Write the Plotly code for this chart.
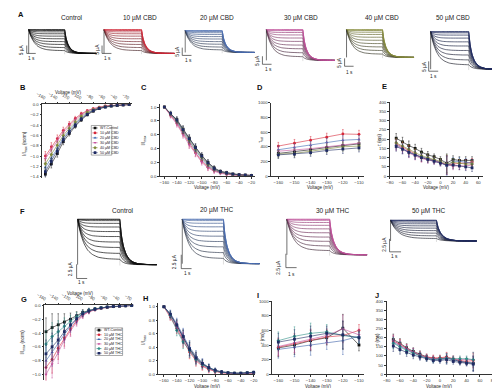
import plotly.graph_objects as go

# ---------------- data ----------------
V_ACT = [-160, -150, -140, -130, -120, -110, -100, -90, -80, -70, -60, -50, -40, -30, -20]
V_TAU_ACT = [-160, -150, -140, -130, -120, -110]
V_TAU_DEACT = [-70, -60, -50, -40, -30, -20, -10, 0, 10, 20, 30, 40, 50]

CBD_LABELS = ["WT-Control", "10 µM CBD", "20 µM CBD", "30 µM CBD", "40 µM CBD", "50 µM CBD"]
THC_LABELS = ["WT-Control", "10 µM THC", "20 µM THC", "30 µM THC", "40 µM THC", "50 µM THC"]
CBD_COLORS = ["#111111", "#d62839", "#3a66b0", "#c4519d", "#7f8a3a", "#1f2b63"]
THC_COLORS = ["#111111", "#d62839", "#3a5fa8", "#c4519d", "#2f8f86", "#1f2b63"]
SYMBOLS = ["square", "circle", "triangle-up", "triangle-down", "diamond", "square"]

# B: normalised I-V (CBD)
B_SERIES = [
    [-1.35, -1.15, -0.95, -0.72, -0.56, -0.42, -0.30, -0.20, -0.13, -0.08, -0.05, -0.03, -0.02, -0.008, 0.0],
    [-1.00, -0.82, -0.66, -0.50, -0.38, -0.27, -0.18, -0.12, -0.08, -0.05, -0.03, -0.02, -0.01, -0.005, 0.0],
    [-1.22, -1.04, -0.85, -0.64, -0.50, -0.37, -0.26, -0.17, -0.11, -0.07, -0.045, -0.026, -0.016, -0.007, 0.0],
    [-1.05, -0.87, -0.71, -0.54, -0.41, -0.30, -0.20, -0.13, -0.085, -0.055, -0.033, -0.021, -0.012, -0.005, 0.0],
    [-1.15, -0.97, -0.79, -0.60, -0.46, -0.34, -0.23, -0.15, -0.10, -0.065, -0.04, -0.024, -0.014, -0.006, 0.0],
    [-1.30, -1.10, -0.90, -0.68, -0.53, -0.40, -0.28, -0.19, -0.12, -0.075, -0.048, -0.028, -0.018, -0.008, 0.0],
]
B_ERR = [0.09, 0.08, 0.07, 0.06, 0.05, 0.04, 0.03, 0.02, 0.015, 0.01, 0.008, 0.006, 0.005, 0.004, 0.0]

# C: normalised activation (CBD)
C_SERIES = [
    [1.0, 0.90, 0.82, 0.68, 0.55, 0.42, 0.30, 0.20, 0.12, 0.07, 0.05, 0.03, 0.02, 0.015, 0.01],
    [1.0, 0.88, 0.77, 0.62, 0.47, 0.34, 0.22, 0.13, 0.08, 0.05, 0.03, 0.02, 0.015, 0.01, 0.01],
    [1.0, 0.89, 0.79, 0.64, 0.50, 0.37, 0.25, 0.15, 0.09, 0.055, 0.035, 0.02, 0.015, 0.01, 0.01],
    [1.0, 0.87, 0.75, 0.60, 0.45, 0.33, 0.20, 0.12, 0.07, 0.04, 0.025, 0.015, 0.01, 0.01, 0.005],
    [1.0, 0.90, 0.80, 0.66, 0.52, 0.39, 0.27, 0.17, 0.10, 0.06, 0.04, 0.025, 0.015, 0.01, 0.01],
    [1.0, 0.91, 0.81, 0.67, 0.54, 0.41, 0.29, 0.19, 0.11, 0.065, 0.045, 0.03, 0.02, 0.015, 0.01],
]
C_ERR = [0.0, 0.03, 0.04, 0.05, 0.05, 0.05, 0.04, 0.04, 0.03, 0.02, 0.02, 0.01, 0.01, 0.01, 0.01]

# D: activation time constants (CBD)
D_SERIES = [
    [310, 330, 360, 390, 420, 440],
    [410, 450, 490, 530, 575, 570],
    [360, 390, 420, 460, 490, 500],
    [340, 355, 375, 400, 430, 450],
    [300, 310, 340, 370, 400, 410],
    [290, 300, 320, 350, 370, 385],
]
D_ERR = [50, 50, 50, 55, 60, 55]

# E: deactivation time constants (CBD)
E_SERIES = [
    [205, 185, 165, 150, 130, 115, 105, 90, 70, 90, 85, 85, 85],
    [175, 158, 140, 120, 100, 95, 85, 75, 60, 65, 70, 70, 75],
    [170, 150, 130, 115, 105, 95, 85, 75, 55, 80, 80, 75, 70],
    [165, 148, 125, 110, 95, 88, 80, 70, 60, 55, 55, 55, 60],
    [180, 163, 145, 125, 110, 100, 90, 80, 65, 75, 70, 65, 65],
    [160, 145, 128, 113, 100, 90, 80, 70, 60, 60, 55, 50, 45],
]
E_ERR = [25, 25, 25, 22, 20, 18, 15, 15, 50, 20, 20, 20, 20]

# G: normalised I-V (THC)
G_SERIES = [
    [-0.38, -0.32, -0.28, -0.24, -0.20, -0.15, -0.10, -0.07, -0.05, -0.035, -0.025, -0.015, -0.01, -0.005, 0.0],
    [-0.90, -0.78, -0.62, -0.47, -0.34, -0.22, -0.14, -0.09, -0.06, -0.04, -0.025, -0.015, -0.01, -0.005, 0.0],
    [-0.80, -0.68, -0.55, -0.42, -0.30, -0.20, -0.13, -0.08, -0.055, -0.035, -0.022, -0.014, -0.008, -0.004, 0.0],
    [-1.00, -0.85, -0.68, -0.50, -0.36, -0.24, -0.15, -0.09, -0.06, -0.04, -0.025, -0.015, -0.01, -0.005, 0.0],
    [-0.56, -0.45, -0.38, -0.30, -0.23, -0.16, -0.11, -0.075, -0.05, -0.035, -0.022, -0.014, -0.008, -0.004, 0.0],
    [-0.70, -0.60, -0.50, -0.38, -0.28, -0.19, -0.12, -0.08, -0.055, -0.037, -0.024, -0.015, -0.009, -0.004, 0.0],
]
G_ERR = [0.2, 0.2, 0.16, 0.12, 0.09, 0.06, 0.04, 0.03, 0.02, 0.01, 0.008, 0.006, 0.005, 0.004, 0.0]

# H: normalised activation (THC)
H_SERIES = [
    [1.0, 0.88, 0.72, 0.55, 0.38, 0.25, 0.15, 0.09, 0.05, 0.03, 0.02, 0.015, 0.015, 0.02, 0.02],
    [1.0, 0.85, 0.68, 0.50, 0.33, 0.20, 0.12, 0.07, 0.04, 0.02, 0.015, 0.01, 0.01, 0.015, 0.02],
    [1.0, 0.90, 0.75, 0.58, 0.40, 0.27, 0.17, 0.10, 0.06, 0.035, 0.02, 0.015, 0.015, 0.02, 0.025],
    [1.0, 0.86, 0.70, 0.52, 0.35, 0.22, 0.13, 0.08, 0.045, 0.025, 0.015, 0.01, 0.01, 0.015, 0.02],
    [1.0, 0.87, 0.65, 0.48, 0.35, 0.22, 0.14, 0.09, 0.05, 0.03, 0.02, 0.015, 0.015, 0.02, 0.03],
    [1.0, 0.89, 0.73, 0.56, 0.37, 0.24, 0.16, 0.10, 0.06, 0.035, 0.02, 0.015, 0.015, 0.02, 0.03],
]
H_ERR = [0.0, 0.05, 0.08, 0.10, 0.10, 0.08, 0.06, 0.05, 0.03, 0.02, 0.01, 0.01, 0.01, 0.01, 0.01]

# I: activation time constants (THC)
I_SERIES = [
    [360, 400, 460, 500, 630, 400],
    [370, 420, 470, 510, 530, 600],
    [340, 370, 400, 440, 460, 520],
    [380, 430, 480, 530, 620, 540],
    [460, 520, 560, 580, 530, 500],
    [440, 480, 520, 560, 540, 500],
]
I_ERR = [120, 130, 140, 100, 190, 80]

# J: deactivation time constants (THC)
J_SERIES = [
    [190, 170, 145, 125, 110, 95, 85, 85, 90, 80, 70, 65, 60],
    [180, 165, 140, 120, 105, 95, 90, 90, 95, 85, 75, 70, 75],
    [175, 155, 135, 120, 100, 90, 80, 80, 85, 80, 70, 65, 60],
    [185, 160, 140, 122, 105, 92, 85, 85, 90, 85, 80, 80, 80],
    [170, 150, 130, 115, 100, 88, 80, 85, 88, 85, 85, 85, 80],
    [155, 135, 120, 105, 95, 85, 75, 75, 80, 70, 65, 60, 55],
]
J_ERR = [30, 25, 22, 20, 18, 15, 15, 15, 25, 15, 15, 15, 40]

# current traces (read-off shapes, µA / s)
CBD_TRACE_TITLES = ["Control", "10 µM CBD", "20 µM CBD", "30 µM CBD", "40 µM CBD", "50 µM CBD"]
CBD_TRACE_PEAK = [15, 15, 14, 19, 17.5, 19]
CBD_TRACE_COLORS = ["#111111", "#d62839", "#4a6fb5", "#c4519d", "#8a8f3c", "#1f2b63"]
THC_TRACE_TITLES = ["Control", "20 µM THC", "30 µM THC", "50 µM THC"]
THC_TRACE_PEAK = [8, 8, 6.4, 4]
THC_TRACE_COLORS = ["#111111", "#4a6fb5", "#c4519d", "#1f2b63"]
LEVEL_FRAC = [1.0, 1.0, 0.97, 0.91, 0.83, 0.73, 0.62, 0.50, 0.38, 0.25, 0.12]
SWEEP_STRETCH = [0.6, 0.6, 0.65, 0.7, 0.8, 0.9, 1.0, 1.1, 1.2, 1.3, 1.4]
ACT_T = [0, 0.1, 0.25, 0.45, 0.7, 1.0, 1.4, 2.0, 2.8]
ACT_FRAC = [0, 0.2, 0.42, 0.62, 0.78, 0.88, 0.95, 0.985, 1.0]
TAIL_DT = [0, 0.15, 0.35, 0.6, 0.9, 1.25, 1.75, 2.5, 3.5]
TAIL_FRAC = [1, 0.65, 0.4, 0.23, 0.12, 0.06, 0.02, 0.005, 0]
STEP_END = 4.0
T_END = 7.5

# ---------------- helpers ----------------
W, HH = 500, 388
FONT = "Liberation Sans, Arial, sans-serif"


def px(x):
    return x / W


def py(y):
    return 1 - y / HH


fig = go.Figure()
_n = [0]


def new_axes(xd, yd, xa, ya):
    _n[0] += 1
    n = _n[0]
    xs = "x" if n == 1 else f"x{n}"
    ys = "y" if n == 1 else f"y{n}"
    xk = "xaxis" if n == 1 else f"xaxis{n}"
    yk = "yaxis" if n == 1 else f"yaxis{n}"
    xa = dict(xa, domain=[px(xd[0]), px(xd[1])], anchor=ys)
    ya = dict(ya, domain=[py(yd[1]), py(yd[0])], anchor=xs)
    fig.update_layout({xk: xa, yk: ya})
    return xs, ys


def text(x, y, s, size=5, rot=0, bold=False, color="#222", xanchor="center"):
    if bold:
        s = "<b>" + s + "</b>"
    fig.add_annotation(x=px(x), y=py(y), xref="paper", yref="paper", text=s, showarrow=False,
                       font=dict(size=size, color=color, family=FONT), textangle=rot,
                       xanchor=xanchor, yanchor="middle", borderpad=0)


def pline(x0, y0, x1, y1, color="#333", width=0.7):
    fig.add_shape(type="line", xref="paper", yref="paper", x0=px(x0), y0=py(y0), x1=px(x1), y1=py(y1),
                  line=dict(color=color, width=width))


def mix(c1, c2, t):
    a = [int(c1[i:i + 2], 16) for i in (1, 3, 5)]
    b = [int(c2[i:i + 2], 16) for i in (1, 3, 5)]
    return "#%02x%02x%02x" % tuple(round(a[k] + (b[k] - a[k]) * t) for k in range(3))


def trace_panel(box, peak, color, title, title_xy, sb_corner, sb_val, sb_text, sb_lab_v, sb_lab_h):
    x0, x1, ytop, ybase = box
    pps = (x1 - x0) / T_END
    ppu = (ybase - ytop) / peak
    xa = dict(visible=False, range=[-1 / pps, T_END + 1 / pps])
    ya = dict(visible=False, range=[-1 / ppu, peak + 1 / ppu])
    xs, ys = new_axes((x0 - 1, x1 + 1), (ytop - 1, ybase + 1), xa, ya)
    n = len(LEVEL_FRAC)
    # step-end artefact
    fig.add_trace(go.Scatter(x=[STEP_END, STEP_END], y=[-1 / ppu, peak * 0.9], mode="lines",
                             line=dict(color="#c8c8c8", width=0.6), xaxis=xs, yaxis=ys,
                             showlegend=False, hoverinfo="skip"))
    for i in reversed(range(n)):
        lf, st = LEVEL_FRAC[i], SWEEP_STRETCH[i]
        L = peak * lf
        tx = [t * st for t in ACT_T] + [STEP_END] + [STEP_END + dt for dt in TAIL_DT]
        ty = [peak - (peak - L) * f for f in ACT_FRAC] + [L] + [L * f for f in TAIL_FRAC]
        col = color if color == "#111111" else mix(color, "#2a2a2a", 0.8 * i / (n - 1))
        fig.add_trace(go.Scatter(x=tx, y=ty, mode="lines",
                                 line=dict(color=col, width=0.7, shape="spline", smoothing=0.5),
                                 xaxis=xs, yaxis=ys, showlegend=False, hoverinfo="skip"))
    fig.add_trace(go.Scatter(x=[0, 0], y=[0, peak], mode="lines", line=dict(color="#333", width=0.7),
                             xaxis=xs, yaxis=ys, showlegend=False, hoverinfo="skip"))
    text(title_xy[0], title_xy[1], title, size=6.5)
    cx, cy = sb_corner
    pline(cx, cy, cx, cy - sb_val * ppu)
    pline(cx, cy, cx + pps, cy)
    text(sb_lab_v[0], sb_lab_v[1], sb_text, size=4.8, rot=-90)
    text(sb_lab_h[0], sb_lab_h[1], "1 s", size=4.8)


AX = dict(showline=True, linecolor="#333", linewidth=0.6, ticks="outside", ticklen=2, tickwidth=0.5,
          tickcolor="#333", tickfont=dict(size=4.3, color="#333", family=FONT), showgrid=False,
          zeroline=False, fixedrange=True)


def chart_panel(box, xr, yr, xticks, yticks, yfmt, x_top, xv, series, err, colors):
    xl, xr_px, yt, yb = box
    xa = dict(AX, range=xr, tickvals=xticks, side="top" if x_top else "bottom")
    ya = dict(AX, range=yr, tickvals=yticks, tickformat=yfmt)
    xs, ys = new_axes((xl, xr_px), (yt, yb), xa, ya)
    for s, c, m in zip(series, colors, SYMBOLS):
        fig.add_trace(go.Scatter(x=xv, y=s, mode="lines+markers", line=dict(color=c, width=0.6),
                                 marker=dict(symbol=m, size=2.8, color=c, line=dict(width=0)),
                                 error_y=dict(type="data", array=err, color=c, thickness=0.45, width=0.8),
                                 xaxis=xs, yaxis=ys, showlegend=False, hoverinfo="skip", cliponaxis=False))


def legend_box(box, labels, colors):
    x0, y0, x1, y1 = box
    fig.add_shape(type="rect", xref="paper", yref="paper", x0=px(x0), x1=px(x1), y0=py(y1), y1=py(y0),
                  line=dict(color="#555", width=0.5), fillcolor="white", layer="below")
    n = len(labels)
    rowh = (y1 - y0) / n
    xs, ys = new_axes((x0, x1), (y0, y1), dict(visible=False, range=[x0, x1]),
                      dict(visible=False, range=[y1, y0]))
    for i in range(n):
        yc = y0 + rowh * (i + 0.5)
        fig.add_trace(go.Scatter(x=[x0 + 1.2, x0 + 6.5], y=[yc, yc], mode="lines",
                                 line=dict(color=colors[i], width=0.6), xaxis=xs, yaxis=ys,
                                 showlegend=False, hoverinfo="skip"))
        fig.add_trace(go.Scatter(x=[x0 + 3.85], y=[yc], mode="markers",
                                 marker=dict(symbol=SYMBOLS[i], size=2.6, color=colors[i]),
                                 xaxis=xs, yaxis=ys, showlegend=False, hoverinfo="skip"))
        text(x0 + 7.5, yc, labels[i], size=3.6, xanchor="left")


# ---------------- row A: CBD current traces ----------------
A_GEO = [
    dict(box=(14, 83, 20, 44), t=(58, 8), sb=(12, 44), lv=(7, 40), lh=(17, 49.5)),
    dict(box=(91, 163, 20, 44), t=(128, 8), sb=(89, 44), lv=(84, 40), lh=(95, 49.5)),
    dict(box=(174, 245, 21, 43), t=(207, 8), sb=(171, 46), lv=(166, 42), lh=(177, 51)),
    dict(box=(257, 327, 20, 51), t=(292, 8), sb=(253, 55), lv=(248, 51), lh=(259, 60)),
    dict(box=(339, 408, 20, 48), t=(375, 8), sb=(337, 57), lv=(332, 53), lh=(342, 63)),
    dict(box=(425, 498, 22, 60), t=(448, 8), sb=(423, 62), lv=(418, 57), lh=(428, 67)),
]
for g, pk, col, ttl in zip(A_GEO, CBD_TRACE_PEAK, CBD_TRACE_COLORS, CBD_TRACE_TITLES):
    trace_panel(g["box"], pk, col, ttl, g["t"], g["sb"], 5, "5 µA", g["lv"], g["lh"])

# ---------------- row F: THC current traces ----------------
F_GEO = [
    dict(box=(64, 145, 212, 258), t=(110, 203), sb=(63, 272), lv=(57, 262), lh=(68, 276)),
    dict(box=(171, 250, 212, 257), t=(207, 203), sb=(170, 262), lv=(163, 255), lh=(176, 267)),
    dict(box=(278, 360, 212, 248), t=(325, 204), sb=(277, 261), lv=(270, 261), lh=(283, 268)),
    dict(box=(384, 472, 213, 234), t=(423, 204), sb=(383, 245), lv=(378, 237), lh=(388, 250)),
]
for g, pk, col, ttl in zip(F_GEO, THC_TRACE_PEAK, THC_TRACE_COLORS, THC_TRACE_TITLES):
    trace_panel(g["box"], pk, col, ttl, g["t"], g["sb"], 2.5, "2.5 µA", g["lv"], g["lh"])

# ---------------- row B-E ----------------
Y_IV_B = [0.0, -0.2, -0.4, -0.6, -0.8, -1.0, -1.2, -1.4]
Y_IV_G = [0.0, -0.2, -0.4, -0.6, -0.8, -1.0]
Y_NORM = [0.0, 0.2, 0.4, 0.6, 0.8, 1.0]
X_ACT_TICKS = [-160, -140, -120, -100, -80, -60, -40, -20]

chart_panel((28, 120, 95.7, 170), [-165, -14.6], [-1.42, 0], X_ACT_TICKS, Y_IV_B, ".1f", True,
            V_ACT, B_SERIES, B_ERR, CBD_COLORS)
chart_panel((148.3, 245, 95.5, 168.3), [-167, -15], [0, 1.04], X_ACT_TICKS, Y_NORM, ".1f", False,
            V_ACT, C_SERIES, C_ERR, CBD_COLORS)
chart_panel((262, 357, 94, 168.3), [-164.4, -106.8], [0, 1000], V_TAU_ACT, [0, 200, 400, 600, 800, 1000],
            "d", False, V_TAU_ACT, D_SERIES, D_ERR, CBD_COLORS)
chart_panel((383.3, 478.3, 93.3, 168.3), [-80, 67], [0, 400], [-80, -60, -40, -20, 0, 20, 40, 60],
            [0, 50, 100, 150, 200, 250, 300, 350, 400], "d", False, V_TAU_DEACT, E_SERIES, E_ERR, CBD_COLORS)

# ---------------- row G-J ----------------
chart_panel((30, 120, 299.3, 375.3), [-162.7, -18.9], [-1.086, 0], X_ACT_TICKS, Y_IV_G, ".1f", True,
            V_ACT, G_SERIES, G_ERR, THC_COLORS)
chart_panel((146.7, 245, 297.2, 369), [-168.5, -18.5], [0, 1.05], X_ACT_TICKS, Y_NORM, ".1f", False,
            V_ACT, H_SERIES, H_ERR, THC_COLORS)
chart_panel((263, 357, 295, 369), [-163.8, -106.8], [0, 1000], V_TAU_ACT, [0, 200, 400, 600, 800, 1000],
            "d", False, V_TAU_ACT, I_SERIES, I_ERR, THC_COLORS)
chart_panel((380, 489, 295, 369), [-80, 80], [0, 400], [-80, -60, -40, -20, 0, 20, 40, 60, 80],
            [0, 50, 100, 150, 200, 250, 300, 350, 400], "d", False, V_TAU_DEACT, J_SERIES, J_ERR, THC_COLORS)

legend_box((78, 117, 99, 147), CBD_LABELS, CBD_COLORS)
legend_box((82, 322, 110, 350), THC_LABELS, THC_COLORS)

# axis titles
text(55, 84, "Voltage (mV)", size=4.5)
text(11, 135, "I/I<sub>max</sub> (norm)", size=4.5, rot=-90)
text(197, 180, "Voltage (mV)", size=4.5)
text(132, 132, "I/I<sub>max</sub>", size=4.5, rot=-90)
text(312, 180, "Voltage (mV)", size=4.5)
text(252, 131, "τ<sub>act</sub>", size=4.5, rot=-90)
text(431, 180, "Voltage (mV)", size=4.5)
text(373, 131, "τ (ms)", size=4.5, rot=-90)

text(67, 287.5, "Voltage (mV)", size=4.5)
text(8, 336, "I/I<sub>max</sub> (norm)", size=4.5, rot=-90)
text(197, 381.5, "Voltage (mV)", size=4.5)
text(132, 334, "I/I<sub>max</sub>", size=4.5, rot=-90)
text(310, 381.5, "Voltage (mV)", size=4.5)
text(253, 332, "τ (ms)", size=4.5, rot=-90)
text(434, 381.5, "Voltage (mV)", size=4.5)
text(371, 333, "τ (ms)", size=4.5, rot=-90)

# panel letters
for L, x, y in [("A", 6, 5), ("B", 8, 79), ("C", 132, 79), ("D", 251, 79), ("E", 378, 78),
                ("F", 8, 204), ("G", 9, 293), ("H", 133, 292), ("I", 248, 289), ("J", 370, 289)]:
    text(x, y, L, size=7.5, bold=True, color="#111")

fig.update_layout(width=W, height=HH, margin=dict(l=0, r=0, t=0, b=0), paper_bgcolor="white",
                  plot_bgcolor="rgba(0,0,0,0)", showlegend=False, font=dict(family=FONT))
fig.write_html("out.html", config={"displayModeBar": False})
